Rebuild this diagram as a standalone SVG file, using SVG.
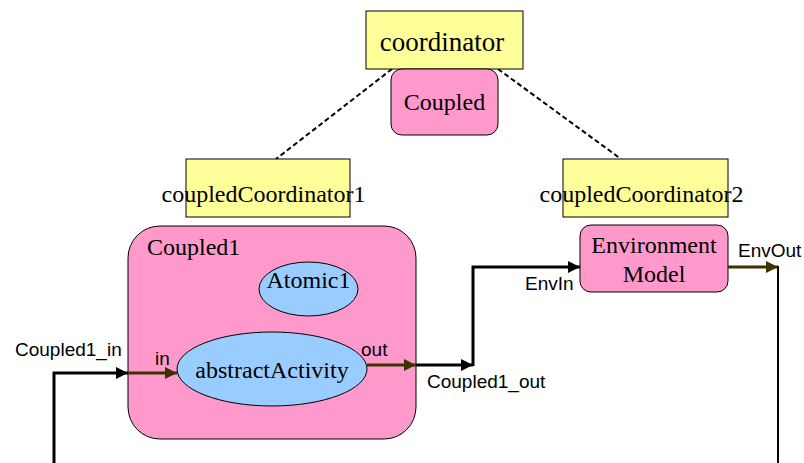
<svg xmlns="http://www.w3.org/2000/svg" width="804" height="463" viewBox="0 0 804 463">
<style>
.yel{fill:#FFFF99;stroke:#000;stroke-width:1}
.pink{fill:#FF99CC;stroke:#000;stroke-width:1}
.blue{fill:#99CCFF;stroke:#000;stroke-width:1}
.ser{font-family:"Liberation Serif","Times New Roman",serif;font-size:24px;fill:#000}
.sans{font-family:"Liberation Sans",Arial,sans-serif;font-size:19px;fill:#000}
.blk{fill:none;stroke:#000;stroke-width:3}
.olv{fill:none;stroke:#3d3300;stroke-width:3}
.dash{fill:none;stroke:#000;stroke-width:2;stroke-dasharray:5,3}
</style>
<defs>
<marker id="ab" viewBox="0 0 10 10" refX="10" refY="5" markerWidth="4" markerHeight="4" orient="auto" markerUnits="strokeWidth"><path d="M0,0L10,5L0,10z" fill="#000"/></marker>
<marker id="ao" viewBox="0 0 10 10" refX="10" refY="5" markerWidth="4" markerHeight="4" orient="auto" markerUnits="strokeWidth"><path d="M0,0L10,5L0,10z" fill="#3d3300"/></marker>
</defs>
<g id="connectors">
<line class="dash" x1="392" y1="69" x2="276" y2="159"/>
<line class="dash" x1="498" y1="69" x2="621" y2="159"/>
</g>
<g id="coordinator">
<rect class="yel" x="366" y="11" width="157" height="58"/>
<text class="ser" x="442" y="51" text-anchor="middle" style="font-size:27px">coordinator</text>
</g>
<g id="coupled">
<rect class="pink" x="391" y="69" width="107" height="66" rx="11"/>
<text class="ser" x="444.5" y="110" text-anchor="middle">Coupled</text>
</g>
<g id="coupledCoordinator1">
<rect class="yel" x="186" y="159" width="164" height="58"/>
<text class="ser" x="263.5" y="202" text-anchor="middle">coupledCoordinator1</text>
</g>
<g id="coupledCoordinator2">
<rect class="yel" x="563" y="159" width="165" height="58"/>
<text class="ser" x="641.5" y="202" text-anchor="middle">coupledCoordinator2</text>
</g>
<g id="coupled1">
<rect class="pink" x="128" y="226" width="288" height="213" rx="32"/>
<text class="ser" x="147" y="255">Coupled1</text>
</g>
<g id="atomic1">
<ellipse class="blue" cx="308.5" cy="289" rx="49.5" ry="27"/>
<text class="ser" x="308.5" y="288" text-anchor="middle">Atomic1</text>
</g>
<g id="abstractActivity">
<ellipse class="blue" cx="272" cy="369" rx="95" ry="37"/>
<text class="ser" x="272" y="378" text-anchor="middle">abstractActivity</text>
</g>
<g id="environmentModel">
<rect class="pink" x="580" y="225" width="148" height="67" rx="11"/>
<text class="ser" x="654" y="253" text-anchor="middle">Environment</text>
<text class="ser" x="654" y="282" text-anchor="middle">Model</text>
</g>
<g id="links">
<polyline class="blk" points="54,463 54,373 128,373" marker-end="url(#ab)"/>
<line class="olv" x1="128" y1="373" x2="177" y2="373" marker-end="url(#ao)"/>
<line class="olv" x1="367" y1="365" x2="416" y2="365" marker-end="url(#ao)"/>
<line class="blk" x1="416" y1="365" x2="473" y2="365" marker-end="url(#ab)"/>
<polyline class="blk" points="473,366 473,267 580,267" marker-end="url(#ab)"/>
<line class="olv" x1="728" y1="267" x2="778" y2="267" marker-end="url(#ao)"/>
<line x1="778" y1="266" x2="778" y2="463" stroke="#000" stroke-width="2"/>
<text class="sans" x="15" y="356">Coupled1_in</text>
<text class="sans" x="155" y="365">in</text>
<text class="sans" x="361" y="356">out</text>
<text class="sans" x="427" y="388">Coupled1_out</text>
<text class="sans" x="525" y="290">EnvIn</text>
<text class="sans" x="738" y="257">EnvOut</text>
</g>
</svg>
